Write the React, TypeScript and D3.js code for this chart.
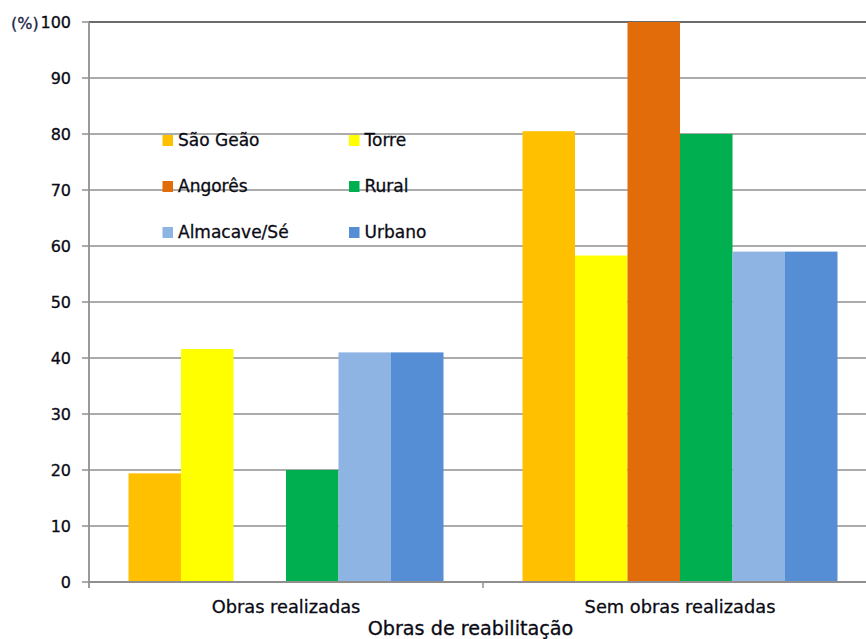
import React from "react";
import * as d3 from "d3";

// Categories on the x axis and the parishes / areas compared in each.
const categories = ["Obras realizadas", "Sem obras realizadas"];
const seriesNames = ["São Geão", "Torre", "Angorês", "Rural", "Almacave/Sé", "Urbano"];
const seriesColors = ["#FFC000", "#FFFF00", "#E36C0A", "#00B050", "#8EB4E3", "#558ED5"];

// Percentages per series, one value per category (same order as `categories`).
const saoGeao = [19.4, 80.5];
const torre = [41.6, 58.3];
const angores = [0, 100];
const rural = [20, 80];
const almacaveSe = [41, 59];
const urbano = [41, 59];
const seriesValues = [saoGeao, torre, angores, rural, almacaveSe, urbano];

const yTicks = [0, 10, 20, 30, 40, 50, 60, 70, 80, 90, 100];
const yUnit = "(%)";
const xTitle = "Obras de reabilitação";

const W = 866;
const H = 639;
const FONT = "'DejaVu Sans', Verdana, sans-serif";
const INK = "#0a0a14";

// slight outline so the small text reads as heavy as the rest of the chart
const textWeight = { stroke: INK, strokeWidth: 0.3 };

export default function App() {
  const left = 89;
  const top = 22;
  const bottom = 582;
  const bandW = 394;

  const x0 = d3
    .scaleBand<string>()
    .domain(categories)
    .range([left, left + bandW * categories.length])
    .paddingInner(0)
    .paddingOuter(0);
  const x1 = d3
    .scaleBand<string>()
    .domain(seriesNames)
    .range([39.5, bandW - 39.5])
    .padding(0);
  const y = d3.scaleLinear().domain([0, 100]).range([bottom, top]);

  // legend layout: two columns, three rows
  const legendCols = [162.5, 349];
  const legendRows = [135, 181, 227];

  return (
    <svg
      width={W}
      height={H}
      viewBox={`0 0 ${W} ${H}`}
      style={{ position: "absolute", left: 0, top: 0, background: "#fff" }}
      fontFamily={FONT}
    >
      {/* horizontal gridlines */}
      {yTicks.map((t) => (
        <line
          key={`g${t}`}
          x1={left}
          x2={W}
          y1={y(t)}
          y2={y(t)}
          stroke={t === 100 ? "#3a3a3a" : "#8f8f8f"}
          strokeWidth={t === 100 ? 1.6 : 1.5}
        />
      ))}

      {/* bars */}
      {seriesNames.map((name, si) =>
        categories.map((cat, ci) => {
          const v = seriesValues[si][ci];
          return (
            <rect
              key={`${name}-${cat}`}
              x={(x0(cat) as number) + (x1(name) as number)}
              y={y(v)}
              width={x1.bandwidth()}
              height={bottom - y(v)}
              fill={seriesColors[si]}
            />
          );
        })
      )}

      {/* y axis */}
      <line x1={left} x2={left} y1={top} y2={bottom + 6} stroke="#8f8f8f" strokeWidth={1.8} />
      {yTicks.map((t) => (
        <g key={`t${t}`}>
          <line x1={left - 7} x2={left} y1={y(t)} y2={y(t)} stroke="#8f8f8f" strokeWidth={1.5} />
          <text
            x={71}
            y={y(t)}
            dy="0.36em"
            textAnchor="end"
            fontSize={16}
            fill={INK}
            {...textWeight}
          >
            {t}
          </text>
        </g>
      ))}
      <text x={11} y={29} fontSize={16} fill="#1b2545" stroke="#1b2545" strokeWidth={0.3}>
        {yUnit}
      </text>

      {/* x axis */}
      <line x1={left} x2={W} y1={bottom} y2={bottom} stroke="#8f8f8f" strokeWidth={1.8} />
      {categories.map((cat, i) =>
        i > 0 ? (
          <line
            key={`xt${cat}`}
            x1={x0(cat) as number}
            x2={x0(cat) as number}
            y1={bottom}
            y2={bottom + 6}
            stroke="#8f8f8f"
            strokeWidth={1.5}
          />
        ) : null
      )}
      {categories.map((cat) => (
        <text
          key={`xl${cat}`}
          x={(x0(cat) as number) + x0.bandwidth() / 2}
          y={613}
          textAnchor="middle"
          fontSize={17.8}
          fill={INK}
          {...textWeight}
        >
          {cat}
        </text>
      ))}
      <text x={470.5} y={635} textAnchor="middle" fontSize={19.2} fill={INK} {...textWeight}>
        {xTitle}
      </text>

      {/* legend */}
      {seriesNames.map((name, i) => {
        const cx = legendCols[i % 2];
        const cy = legendRows[Math.floor(i / 2)];
        return (
          <g key={`lg${name}`}>
            <rect x={cx} y={cy} width={10.5} height={11} fill={seriesColors[i]} />
            <text x={cx + 15.5} y={cy + 11} fontSize={17} fill={INK} {...textWeight}>
              {name}
            </text>
          </g>
        );
      })}
    </svg>
  );
}
